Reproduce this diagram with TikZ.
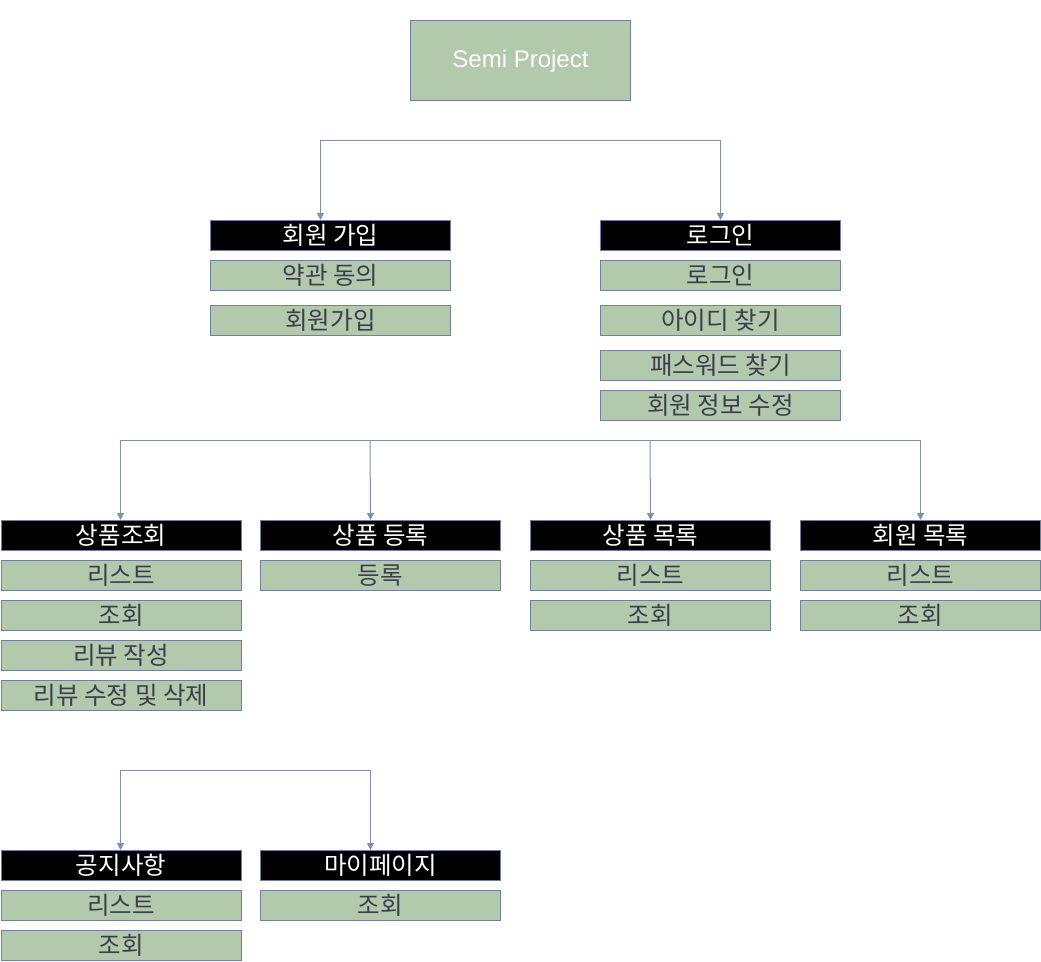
\documentclass[tikz,border=0pt]{standalone}
\usepackage{fontspec}
\setmainfont{Liberation Sans}
\newfontfamily\kr{Noto Sans CJK KR}
\usetikzlibrary{arrows.meta}
\definecolor{boxgreen}{RGB}{179,201,171}
\definecolor{boxedge}{RGB}{112,128,160}
\definecolor{linecol}{RGB}{128,144,170}
\definecolor{txtdark}{RGB}{60,62,80}
\tikzset{
  base/.style={draw=boxedge, line width=1pt, inner sep=0pt, minimum width=240pt, minimum height=30pt, anchor=north west, font=\kr\fontsize{24.5}{24.5}\selectfont, text height=21pt, text depth=3pt},
  head/.style={base, fill=black, text=white},
  item/.style={base, fill=boxgreen, text=txtdark},
  conn/.style={draw=linecol, line width=1pt, -{Triangle[length=7pt,width=7pt]}},
  conn2/.style={draw=linecol, line width=1pt, {Triangle[length=7pt,width=7pt]}-{Triangle[length=7pt,width=7pt]}},
}
\begin{document}
\begin{tikzpicture}[x=1pt,y=-1pt]
\useasboundingbox (0,0) rectangle (1041,961);
% top
\node[draw=boxedge, line width=1pt, fill=boxgreen, text=white, minimum width=220pt, minimum height=80pt, anchor=north west, inner sep=0pt, text height=17pt, text depth=3pt, font=\fontsize{24}{24}\selectfont] (root) at (410,20) {Semi Project};
% level 1
\node[head] (join) at (210,220) {회원 가입};
\node[item] (join1) at (210,260) {약관 동의};
\node[item] (join2) at (210,305) {회원가입};
\node[head] (login) at (600,220) {로그인};
\node[item] (login1) at (600,260) {로그인};
\node[item] (login2) at (600,305) {아이디 찾기};
\node[item] (login3) at (600,350) {패스워드 찾기};
\node[item] (login4) at (600,390) {회원 정보 수정};
\draw[conn2] ([xshift=-10pt]join.north) -- ++(0,-80) -| (login.north);
% level 2
\node[head] (p1) at (0.5,520) {상품조회};
\node[item] (p1a) at (0.5,560) {리스트};
\node[item] (p1b) at (0.5,600) {조회};
\node[item] (p1c) at (0.5,640) {리뷰 작성};
\node[item] (p1d) at (0.5,680) {리뷰 수정 및 삭제};
\node[head] (p2) at (260,520) {상품 등록};
\node[item] (p2a) at (260,560) {등록};
\node[head] (p3) at (530,520) {상품 목록};
\node[item] (p3a) at (530,560) {리스트};
\node[item] (p3b) at (530,600) {조회};
\node[head] (p4) at (800,520) {회원 목록};
\node[item] (p4a) at (800,560) {리스트};
\node[item] (p4b) at (800,600) {조회};
\coordinate (bar2a) at (370,440);
\coordinate (bar2b) at (650,440);
\draw[conn2] ([xshift=-0.5pt]p1.north) -- ++(0,-80) -| (p4.north);
\draw[conn] (bar2a) -- ([xshift=-10pt]p2.north);
\draw[conn] (bar2b) -- (p3.north);
% level 3
\node[head] (n1) at (0.5,850) {공지사항};
\node[item] (n1a) at (0.5,890) {리스트};
\node[item] (n1b) at (0.5,930) {조회};
\node[head] (m1) at (260,850) {마이페이지};
\node[item] (m1a) at (260,890) {조회};
\draw[conn2] ([xshift=-0.5pt]n1.north) -- ++(0,-80) -| ([xshift=-10pt]m1.north);
\end{tikzpicture}
\end{document}
